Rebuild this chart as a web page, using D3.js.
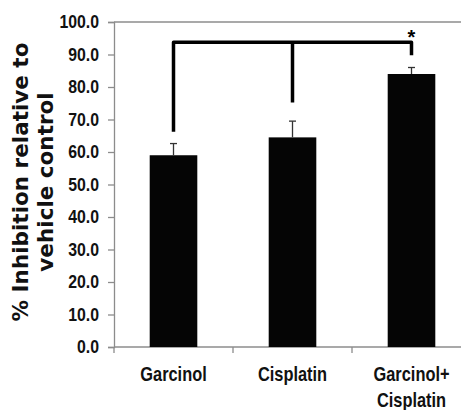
<!DOCTYPE html>
<html>
<head>
<meta charset="utf-8">
<script src="https://cdnjs.cloudflare.com/ajax/libs/d3/7.8.5/d3.min.js"></script>
<style>
  html, body { margin: 0; padding: 0; background: #fff; }
</style>
</head>
<body>
<div class="chart"></div>
<script>
(function() {
    var categories = ["Garcinol", "Cisplatin", "Garcinol+ Cisplatin"];
    var categoryLines = [["Garcinol"], ["Cisplatin"], ["Garcinol+", "Cisplatin"]];
    var means = [59.0, 64.5, 84.0];
    var errors = [3.6, 5.0, 2.0];
    var yTicks = [0, 10, 20, 30, 40, 50, 60, 70, 80, 90, 100];
    var yLabelLines = ["% Inhibition relative to", "vehicle control"];
    // significance bracket, in data units
    var bracketLevel = 93.8;
    var bracketLegEnds = [66.2, 75.2, 89.8];
    var sigMark = "*";

    var width = 461, height = 410;
    var left = 114, right = 471, top = 22, bottom = 347;
    var axisColor = "#8c8c8c";
    var narrow = "Liberation Sans, Arial, sans-serif";

    var svg = d3.select(".chart")
                .append("svg")
                .attr("width", width)
                .attr("height", height);

    var x = d3.scaleBand()
              .domain(categories)
              .range([left, right])
              .paddingInner(0.6)
              .paddingOuter(0.3);

    var y = d3.scaleLinear().domain([0, 100]).range([bottom, top]);

    // top frame line
    svg.append("line")
       .attr("x1", left).attr("x2", right)
       .attr("y1", y(100)).attr("y2", y(100))
       .attr("stroke", axisColor).attr("stroke-width", 1.3);

    // y axis
    var yAxis = svg.append("g")
                   .attr("transform", "translate(" + left + ",0)")
                   .call(d3.axisLeft(y).tickValues(yTicks).tickSize(6).tickPadding(9)
                           .tickFormat(d3.format(".1f")));
    yAxis.select(".domain").attr("stroke", axisColor).attr("stroke-width", 1.3);
    yAxis.selectAll(".tick line").attr("stroke", axisColor).attr("stroke-width", 1.3);
    yAxis.selectAll(".tick text")
         .attr("x", 0)
         .attr("transform", "translate(-15,0) scale(0.88,1)")
         .attr("fill", "#111")
         .style("font-family", narrow)
         .style("font-weight", "bold")
         .style("font-size", "18px");

    // x axis line and category ticks
    svg.append("line")
       .attr("x1", left).attr("x2", right)
       .attr("y1", bottom).attr("y2", bottom)
       .attr("stroke", axisColor).attr("stroke-width", 1.3);

    var step = x.step();
    var boundaries = [left].concat(categories.map(function(d) {
        return x(d) + x.bandwidth() / 2 + step / 2;
    }));
    svg.selectAll(".xtick")
       .data(boundaries)
       .enter().append("line")
       .attr("class", "xtick")
       .attr("x1", function(d) { return d; })
       .attr("x2", function(d) { return d; })
       .attr("y1", bottom).attr("y2", bottom + 6)
       .attr("stroke", axisColor).attr("stroke-width", 1.3);

    // bars
    svg.selectAll(".bar")
       .data(means)
       .enter().append("rect")
       .attr("class", "bar")
       .attr("x", function(d, i) { return x(categories[i]); })
       .attr("width", x.bandwidth())
       .attr("y", function(d) { return y(d); })
       .attr("height", function(d) { return y(0) - y(d); })
       .attr("fill", "#050505");

    // error bars (upper only)
    var err = svg.selectAll(".err")
                 .data(means)
                 .enter().append("g")
                 .attr("class", "err")
                 .attr("transform", function(d, i) {
                     return "translate(" + (x(categories[i]) + x.bandwidth() / 2) + ",0)";
                 });
    err.append("line")
       .attr("y1", function(d) { return y(d); })
       .attr("y2", function(d, i) { return y(d + errors[i]); })
       .attr("stroke", "#333").attr("stroke-width", 1.3);
    err.append("line")
       .attr("x1", -3.5).attr("x2", 3.5)
       .attr("y1", function(d, i) { return y(d + errors[i]); })
       .attr("y2", function(d, i) { return y(d + errors[i]); })
       .attr("stroke", "#333").attr("stroke-width", 1.3);

    // category labels
    var labels = svg.selectAll(".cat")
                    .data(categories)
                    .enter().append("g")
                    .attr("class", "cat")
                    .attr("transform", function(d) {
                        return "translate(" + (x(d) + x.bandwidth() / 2) + ",381)";
                    });
    labels.each(function(d, i) {
        d3.select(this).selectAll("text")
          .data(categoryLines[i])
          .enter().append("text")
          .attr("transform", function(t, j) { return "translate(0," + (j * 26) + ") scale(0.82,1)"; })
          .attr("text-anchor", "middle")
          .attr("fill", "#111")
          .style("font-family", narrow)
          .style("font-weight", "bold")
          .style("font-size", "20px")
          .text(function(t) { return t; });
    });

    // y axis title
    var yl = svg.append("g")
                .attr("transform", "translate(28,182) rotate(-90)");
    yl.selectAll("text")
      .data(yLabelLines)
      .enter().append("text")
      .attr("y", function(d, i) { return i * 25; })
      .attr("text-anchor", "middle")
      .attr("fill", "#111")
      .style("font-family", "DejaVu Sans, sans-serif")
      .style("font-weight", "bold")
      .style("font-size", "21.5px")
      .text(function(d) { return d; });

    // significance bracket
    var legX = categories.map(function(d) { return x(d) + x.bandwidth() / 2; });
    var path = d3.path();
    path.moveTo(legX[0], y(bracketLegEnds[0]));
    path.lineTo(legX[0], y(bracketLevel));
    path.lineTo(legX[2], y(bracketLevel));
    path.lineTo(legX[2], y(bracketLegEnds[2]));
    path.moveTo(legX[1], y(bracketLevel));
    path.lineTo(legX[1], y(bracketLegEnds[1]));
    svg.append("path")
       .attr("d", path.toString())
       .attr("fill", "none")
       .attr("stroke", "#000")
       .attr("stroke-width", 3.5)
       .attr("stroke-linejoin", "round");

    svg.append("text")
       .attr("x", legX[2])
       .attr("y", y(bracketLevel) + 2)
       .attr("text-anchor", "middle")
       .style("font-family", "Liberation Sans, Arial, sans-serif")
       .style("font-weight", "bold")
       .style("font-size", "20px")
       .text(sigMark);
})();
</script>
</body>
</html>
